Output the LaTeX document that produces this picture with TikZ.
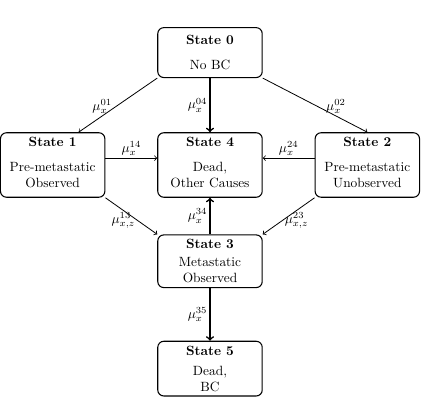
\documentclass[tikz,border=0pt]{standalone}
\usepackage{amsmath}
\usepackage{amssymb}
\usetikzlibrary{arrows,positioning,calc}

\begin{document}
\begin{tikzpicture}[->, >=to, semithick, node distance=1.4cm]
	\tikzstyle{box}=[draw=black,thick,fill=white,text=black,rounded corners=4.5pt,align=center,minimum width=2.74cm,minimum height=1.31cm]
	\tikzstyle{tall}=[text depth=4pt]
	\tikzstyle{rate}=[inner sep=1.5pt]
	\path[use as bounding box] (-5.51,1.38) rectangle (5.51,-9.64);
	\node[box]      (s0)                       {\textbf{State 0}\\[7pt]No BC};
	\node[box,tall] (s4)[below=1.42cm of s0]   {\textbf{State 4}\\[6.5pt]Dead,\\Other Causes};
	\node[box,tall] (s1)[left=1.36cm of s4]    {\textbf{State 1}\\[6.5pt]Pre-metastatic\\Observed};
	\node[box,tall] (s2)[right=1.36cm of s4]   {\textbf{State 2}\\[6.5pt]Pre-metastatic\\Unobserved};
	\node[box]      (s3)[below=0.96cm of s4]   {\textbf{State 3}\\[1.5pt]Metastatic\\Observed};
	\node[box]      (s5)[below=1.38cm of s3]   {\textbf{State 5}\\[3pt]Dead,\\BC};
	\path
	(s0.south west)
	  edge node[rate,pos=0.7,above] {$\mu_x^{01}$} ([xshift=0.68cm]s1.north)
	(s0.south east)
	  edge node[rate,pos=0.7,above] {$\mu_x^{02}$} (s2.north)
	(s0)
	  edge[very thick] node[rate,left] {$\mu_x^{04}$} (s4)
	([yshift=0.18cm]s1.east)
	  edge node[rate,above] {$\mu_x^{14}$} ([yshift=0.18cm]s4.west)
	([yshift=0.18cm]s2.west)
	  edge node[rate,above] {$\mu_x^{24}$} ([yshift=0.18cm]s4.east)
	(s1.south east)
	  edge node[rate,pos=0.62,left] {$\mu_{x,z}^{13}$} (s3.north west)
	(s2.south west)
	  edge node[rate,pos=0.62,right] {$\mu_{x,z}^{23}$} (s3.north east)
	(s3)
	  edge[very thick] node[rate,left] {$\mu_x^{34}$} (s4)
	  edge[very thick] node[rate,left] {$\mu_x^{35}$} (s5)
	;
\end{tikzpicture}
\end{document}
